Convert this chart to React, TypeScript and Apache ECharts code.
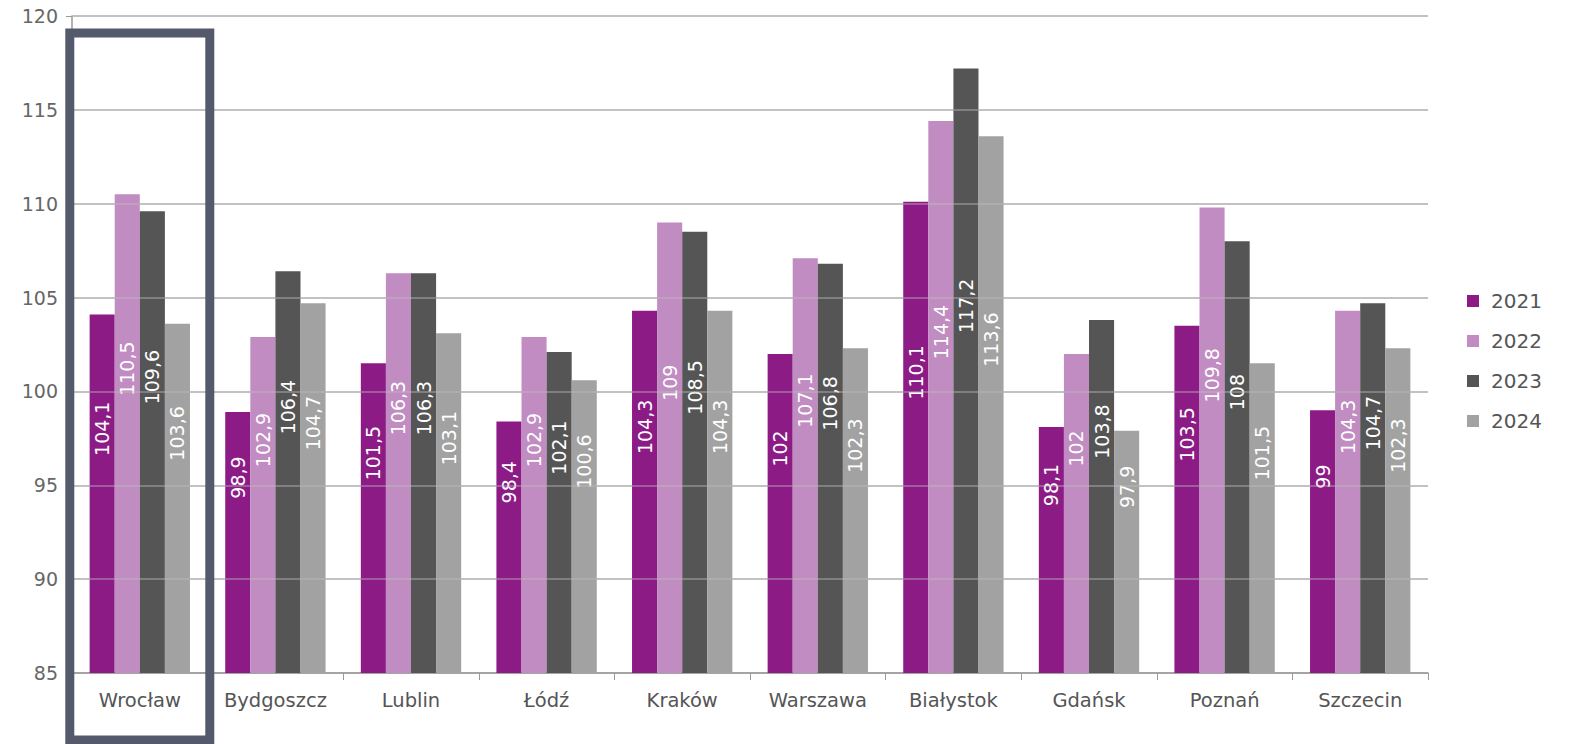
import React, { useEffect, useRef } from "react";
import * as echarts from "echarts";

const categories = ["Wrocław", "Bydgoszcz", "Lublin", "Łódź", "Kraków", "Warszawa", "Białystok", "Gdańsk", "Poznań", "Szczecin"];
const years = ["2021", "2022", "2023", "2024"];
const v2021 = [104.1, 98.9, 101.5, 98.4, 104.3, 102, 110.1, 98.1, 103.5, 99];
const v2022 = [110.5, 102.9, 106.3, 102.9, 109, 107.1, 114.4, 102, 109.8, 104.3];
const v2023 = [109.6, 106.4, 106.3, 102.1, 108.5, 106.8, 117.2, 103.8, 108, 104.7];
const v2024 = [103.6, 104.7, 103.1, 100.6, 104.3, 102.3, 113.6, 97.9, 101.5, 102.3];
const yTicks = [85, 90, 95, 100, 105, 110, 115, 120];
const highlighted = "Wrocław";

const colors = ["#8C1B86", "#C08CC1", "#555555", "#A2A2A2"];
const FONT = "DejaVu Sans, Verdana, sans-serif";

export default function App() {
  const ref = useRef<HTMLDivElement>(null);
  useEffect(() => {
    if (!ref.current) return;
    const chart = echarts.init(ref.current, null, { renderer: "svg" });
    const seriesData = [v2021, v2022, v2023, v2024];
    const bars = years.map((y, i) => ({
      name: y,
      type: "bar",
      data: seriesData[i],
      barGap: "0%",
      barCategoryGap: "26%",
      itemStyle: { color: colors[i] },
      label: {
        show: true,
        position: "inside",
        rotate: 90,
        offset: [65, 0],
        color: "#ffffff",
        fontFamily: FONT,
        fontSize: 19,
        formatter: (p: any) => String(p.value).replace(".", ","),
      },
    }));
    const overlay = {
      name: "grid-overlay",
      type: "line",
      data: [],
      z: 3,
      silent: true,
      markLine: {
        silent: true,
        symbol: "none",
        label: { show: false },
        lineStyle: { color: "rgba(190,190,190,0.55)", width: 1.5, type: "solid" },
        data: yTicks.slice(1).map((t) => ({ yAxis: t })),
      },
    };
    chart.setOption({
      animation: false,
      textStyle: { fontFamily: FONT },
      grid: { left: 72, right: 144, top: 16, bottom: 71, containLabel: false },
      legend: {
        data: years,
        orient: "vertical",
        left: 1462,
        top: 286,
        icon: "rect",
        itemWidth: 12,
        itemHeight: 12,
        itemGap: 20,
        textStyle: { color: "#555", fontSize: 20, fontFamily: FONT, padding: [0, 0, 0, 7] },
      },
      xAxis: {
        type: "category",
        data: categories,
        axisLine: { show: true, lineStyle: { color: "#999", width: 1.5 } },
        axisTick: { show: true, interval: 0, length: 7, lineStyle: { color: "#999" } },
        axisLabel: { interval: 0, color: "#555", fontSize: 19.5, fontFamily: FONT, margin: 17 },
      },
      yAxis: {
        type: "value",
        min: yTicks[0],
        max: yTicks[yTicks.length - 1],
        interval: 5,
        axisLine: { show: true, lineStyle: { color: "#999", width: 1.5 } },
        axisTick: { show: true, length: 6, lineStyle: { color: "#999" } },
        axisLabel: { color: "#666", fontSize: 19, fontFamily: FONT, margin: 14 },
        splitLine: { show: true, lineStyle: { color: "#b3b3b3", width: 1.5 } },
      },
      series: [...bars, overlay],
    });
    const cx = chart.convertToPixel({ xAxisIndex: 0 }, highlighted) as number;
    chart.setOption({
      graphic: [
        {
          type: "rect",
          z: 100,
          shape: { x: cx - 70, y: 33, width: 140, height: 707 },
          style: { fill: "none", stroke: "#545A6C", lineWidth: 9 },
          silent: true,
        },
      ],
    });
    return () => chart.dispose();
  }, []);
  return <div ref={ref} style={{ position: "absolute", left: 0, top: 0, width: 1572, height: 744 }} />;
}
